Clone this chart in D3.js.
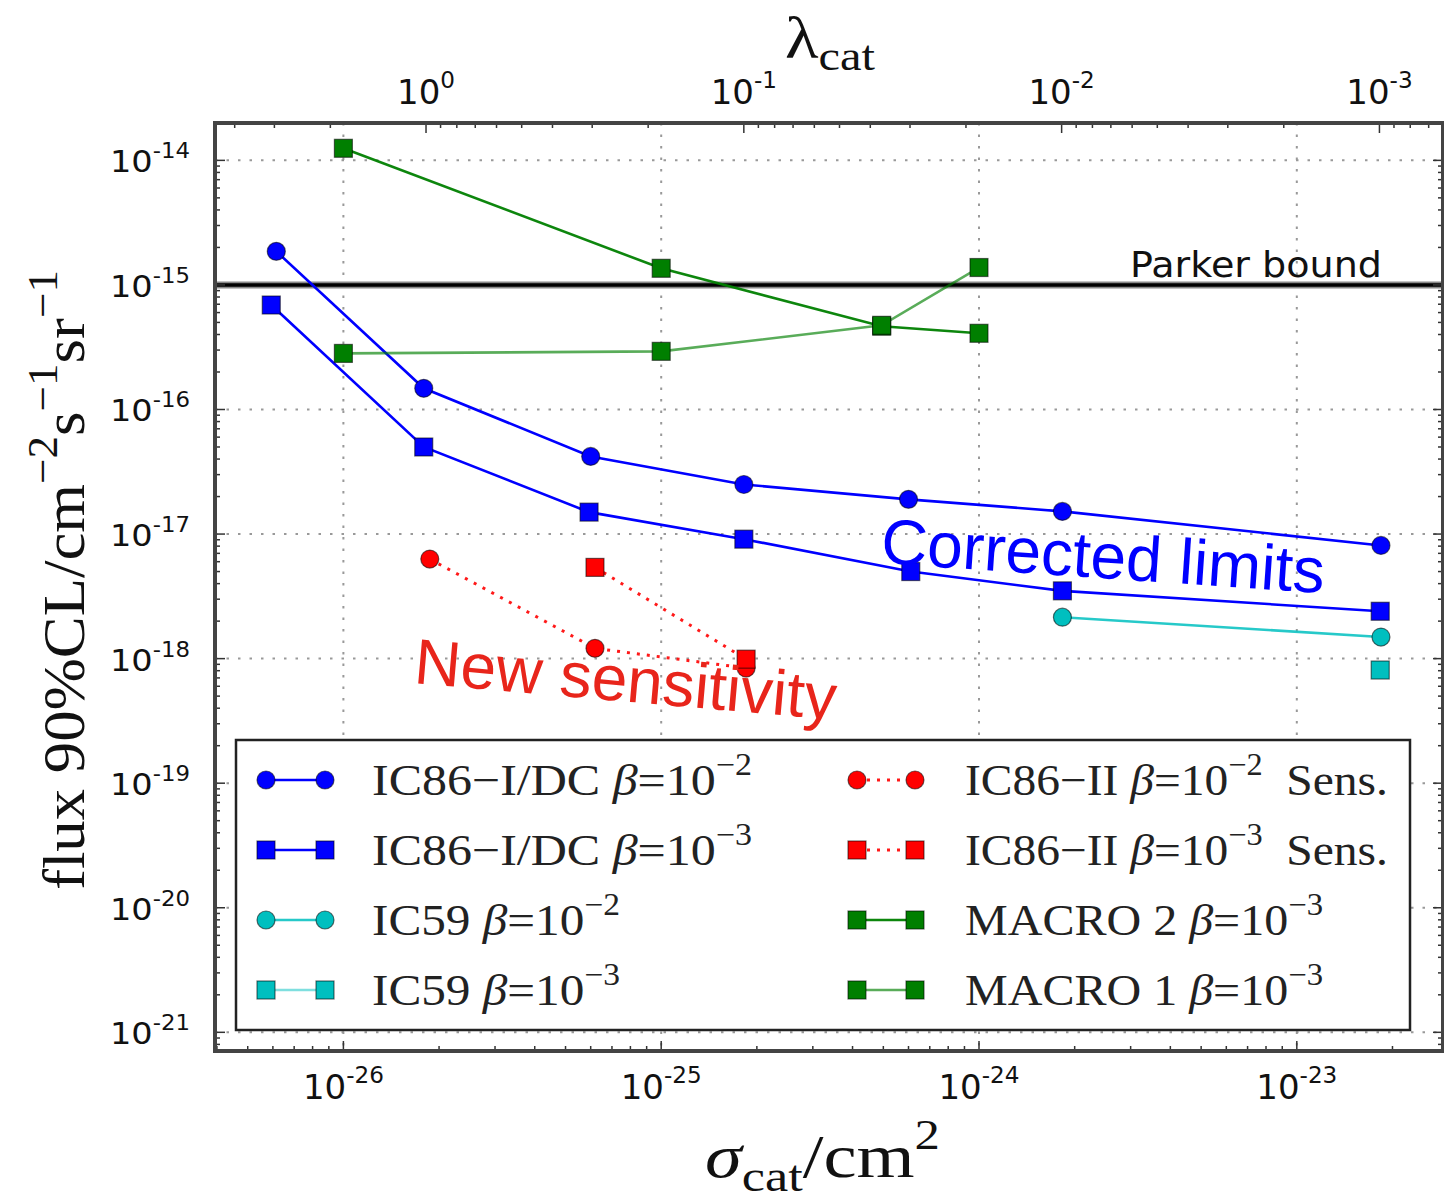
<!DOCTYPE html>
<html><head><meta charset="utf-8">
<script src="https://cdn.jsdelivr.net/npm/d3@7"></script>
<style>html,body{margin:0;padding:0;background:#fff;}svg{display:block;}</style>
</head><body>
<svg id="chart" width="1444" height="1200"></svg>
<script>
// ---------------- DATA ----------------
// sigma_cat (cm^2) and flux (cm^-2 s^-1 sr^-1)
const sigmaIC86b2 = [6.15e-27, 1.79e-26, 6.0e-26, 1.82e-25, 6.0e-25, 1.83e-24, 1.84e-23];
const fluxIC86b2  = [1.86e-15, 1.48e-16, 4.2e-17, 2.5e-17, 1.9e-17, 1.52e-17, 8.1e-18];
const sigmaIC86b3 = [5.93e-27, 1.79e-26, 5.93e-26, 1.82e-25, 6.1e-25, 1.83e-24, 1.83e-23];
const fluxIC86b3  = [6.9e-16, 5.0e-17, 1.5e-17, 9.1e-18, 5.0e-18, 3.5e-18, 2.4e-18];
const sigmaIC59b2 = [1.83e-24, 1.84e-23];
const fluxIC59b2  = [2.15e-18, 1.49e-18];
const sigmaIC59b3 = [1.83e-23];
const fluxIC59b3  = [8.1e-19];
const sigmaSensB2 = [1.87e-26, 6.19e-26, 1.85e-25];
const fluxSensB2  = [6.3e-18, 1.21e-18, 8.4e-19];
const sigmaSensB3 = [6.19e-26, 1.85e-25];
const fluxSensB3  = [5.4e-18, 9.9e-19];
const sigmaMacro2 = [1e-26, 1e-25, 4.94e-25, 1e-24];
const fluxMacro2  = [1.25e-14, 1.36e-15, 4.66e-16, 4.09e-16];
const sigmaMacro1 = [1e-26, 1e-25, 4.94e-25, 1e-24];
const fluxMacro1  = [2.82e-16, 2.93e-16, 4.74e-16, 1.38e-15];
const parkerBound = 1e-15;

const sigmaTicks = [1e-26, 1e-25, 1e-24, 1e-23];
const sigmaTickExp = ["-26", "-25", "-24", "-23"];
const fluxTicks = [1e-14, 1e-15, 1e-16, 1e-17, 1e-18, 1e-19, 1e-20, 1e-21];
const fluxTickExp = ["-14", "-15", "-16", "-17", "-18", "-19", "-20", "-21"];
const lambdaTicks = [1, 0.1, 0.01, 0.001];
const lambdaTickExp = ["0", "-1", "-2", "-3"];
const lambdaRefSigma = Math.pow(10, -25.74); // sigma where lambda_cat = 1

const seriesNames = [
  [["IC86\u2212I/DC "], ["\u03b2", "it"], ["="], ["10"], ["\u22122", "sup"]],
  [["IC86\u2212I/DC "], ["\u03b2", "it"], ["="], ["10"], ["\u22123", "sup"]],
  [["IC59 "], ["\u03b2", "it"], ["="], ["10"], ["\u22122", "sup"]],
  [["IC59 "], ["\u03b2", "it"], ["="], ["10"], ["\u22123", "sup"]],
  [["IC86\u2212II "], ["\u03b2", "it"], ["="], ["10"], ["\u22122", "sup"], ["\u2002Sens."]],
  [["IC86\u2212II "], ["\u03b2", "it"], ["="], ["10"], ["\u22123", "sup"], ["\u2002Sens."]],
  [["MACRO 2 "], ["\u03b2", "it"], ["="], ["10"], ["\u22123", "sup"]],
  [["MACRO 1 "], ["\u03b2", "it"], ["="], ["10"], ["\u22123", "sup"]]
];
const legendTextWidths = [380, 380, 248, 248, 423, 423, 358, 358];

// ---------------- SETUP ----------------
const svg = d3.select("#chart");
const X0 = 215, X1 = 1443, Y0 = 123, Y1 = 1051;
const x = d3.scaleLog().domain([Math.pow(10, -26.404), Math.pow(10, -22.54)]).range([X0, X1]);
const y = d3.scaleLog().domain([Math.pow(10, -21.15), Math.pow(10, -13.70)]).range([Y1, Y0]);
const xl = d3.scaleLog().domain([lambdaRefSigma / x.domain()[0], lambdaRefSigma / x.domain()[1]]).range([X0, X1]);

const series = [
  {s: sigmaIC86b2, f: fluxIC86b2, color: "#0000ff", line: "#0000ff", lo: 1, m: "circle", dash: null},
  {s: sigmaIC86b3, f: fluxIC86b3, color: "#0000ff", line: "#0000ff", lo: 1, m: "square", dash: null},
  {s: sigmaIC59b2, f: fluxIC59b2, color: "#00bfbf", line: "#00bfbf", lo: 0.85, m: "circle", dash: null},
  {s: sigmaIC59b3, f: fluxIC59b3, color: "#00bfbf", line: "#00bfbf", lo: 0.5, m: "square", dash: null},
  {s: sigmaSensB2, f: fluxSensB2, color: "#ff0000", line: "#ff0000", lo: 0.9, m: "circle", dash: "3,7"},
  {s: sigmaSensB3, f: fluxSensB3, color: "#ff0000", line: "#ff0000", lo: 0.9, m: "square", dash: "3,7"},
  {s: sigmaMacro2, f: fluxMacro2, color: "#007f00", line: "#008000", lo: 0.95, m: "square", dash: null},
  {s: sigmaMacro1, f: fluxMacro1, color: "#007f00", line: "#008000", lo: 0.65, m: "square", dash: null}
];

function rich(t, parts, supShift, subShift, supSize) {
  let shift = 0;
  parts.forEach(p => {
    const ts = t.append("tspan").text(p[0]);
    let target = 0;
    if (p[1] === "sup") { target = -supShift; ts.attr("font-size", supSize || "0.68em"); }
    if (p[1] === "sub") { target = subShift; ts.attr("font-size", "0.7em"); }
    if (p[1] === "it") ts.attr("font-style", "italic");
    if (target - shift !== 0) ts.attr("dy", target - shift);
    shift = target;
  });
}

// ---------------- GRID ----------------
const grid = svg.append("g").attr("stroke", "#999").attr("stroke-width", 2).attr("stroke-dasharray", "2.5,9");
grid.selectAll("line.v").data(sigmaTicks).enter().append("line")
  .attr("x1", d => x(d)).attr("x2", d => x(d)).attr("y1", Y0).attr("y2", Y1);
grid.selectAll("line.h").data(fluxTicks).enter().append("line")
  .attr("y1", d => y(d)).attr("y2", d => y(d)).attr("x1", X0).attr("x2", X1);

// ---------------- PARKER BOUND ----------------
svg.append("line").attr("x1", X0).attr("x2", X1).attr("y1", y(parkerBound)).attr("y2", y(parkerBound))
  .attr("stroke", "#888").attr("stroke-width", 7);
svg.append("line").attr("x1", X0).attr("x2", X1).attr("y1", y(parkerBound)).attr("y2", y(parkerBound))
  .attr("stroke", "#000").attr("stroke-width", 3.5);
svg.append("text").attr("x", 1130).attr("y", y(parkerBound) - 8)
  .attr("font-family", "DejaVu Sans").attr("font-size", 36).attr("fill", "#111")
  .attr("textLength", 252).attr("lengthAdjust", "spacingAndGlyphs").text("Parker bound");

// ---------------- SERIES ----------------
const lineGen = d3.line().x(d => x(d[0])).y(d => y(d[1]));
series.forEach(sr => {
  const pts = sr.s.map((v, i) => [v, sr.f[i]]);
  if (pts.length > 1) {
    svg.append("path").attr("d", lineGen(pts)).attr("fill", "none")
      .attr("stroke", sr.line).attr("stroke-opacity", sr.lo).attr("stroke-width", sr.dash ? 3 : 2.6)
      .attr("stroke-dasharray", sr.dash);
  }
});
function drawMarker(g, type, cx, cy, color, size) {
  if (type === "circle") {
    g.append("circle").attr("cx", cx).attr("cy", cy).attr("r", size / 2)
      .attr("fill", color).attr("stroke", "#000").attr("stroke-opacity", 0.55).attr("stroke-width", 1.2);
  } else {
    g.append("rect").attr("x", cx - size / 2).attr("y", cy - size / 2).attr("width", size).attr("height", size)
      .attr("fill", color).attr("stroke", "#000").attr("stroke-opacity", 0.55).attr("stroke-width", 1.2);
  }
}
const markG = svg.append("g");
series.forEach(sr => {
  sr.s.forEach((v, i) => drawMarker(markG, sr.m, x(v), y(sr.f[i]), sr.color, 18));
});

// ---------------- ANNOTATIONS ----------------
svg.append("text").attr("x", 880).attr("y", 563).attr("transform", "rotate(3.9,880,563)")
  .attr("font-family", "Liberation Sans, Arial, sans-serif").attr("font-size", 64).attr("fill", "#0000ff")
  .text("Corrected limits");
svg.append("text").attr("x", 413).attr("y", 683).attr("transform", "rotate(5,413,683)")
  .attr("font-family", "Liberation Sans, Arial, sans-serif").attr("font-size", 64).attr("fill", "#e8251b")
  .text("New sensitivity");

// ---------------- LEGEND ----------------
const leg = svg.append("g");
leg.append("rect").attr("x", 236).attr("y", 740).attr("width", 1174).attr("height", 290)
  .attr("fill", "#fff").attr("stroke", "#222").attr("stroke-width", 2.5);
series.forEach((sr, i) => {
  const col = Math.floor(i / 4), row = i % 4;
  const lx1 = col === 0 ? 266 : 857, lx2 = col === 0 ? 325 : 915, tx = col === 0 ? 372 : 965;
  const ly = 780 + row * 70;
  leg.append("line").attr("x1", lx1).attr("x2", lx2).attr("y1", ly).attr("y2", ly)
    .attr("stroke", sr.line).attr("stroke-opacity", sr.lo).attr("stroke-width", sr.dash ? 3 : 2.6)
    .attr("stroke-dasharray", sr.dash);
  drawMarker(leg, sr.m, lx1, ly, sr.color, 18);
  drawMarker(leg, sr.m, lx2, ly, sr.color, 18);
  const t = leg.append("text").attr("x", tx).attr("y", ly + 15)
    .attr("font-family", "Liberation Serif, serif").attr("font-size", 45).attr("fill", "#222")
    .attr("textLength", legendTextWidths[i]).attr("lengthAdjust", "spacingAndGlyphs");
  rich(t, seriesNames[i], 20, 0);
});

// ---------------- AXES / TICKS ----------------
const tk = svg.append("g").attr("stroke", "#333").attr("stroke-width", 1.5);
const isMajor = v => Math.abs(Math.log10(v) - Math.round(Math.log10(v))) < 1e-6;
x.ticks().forEach(v => {
  const L = isMajor(v) ? 10 : 5;
  tk.append("line").attr("x1", x(v)).attr("x2", x(v)).attr("y1", Y1).attr("y2", Y1 - L);
});
xl.ticks().forEach(v => {
  const L = isMajor(v) ? 10 : 5;
  tk.append("line").attr("x1", xl(v)).attr("x2", xl(v)).attr("y1", Y0).attr("y2", Y0 + L);
});
y.ticks().forEach(v => {
  const L = isMajor(v) ? 10 : 5;
  tk.append("line").attr("x1", X0).attr("x2", X0 + L).attr("y1", y(v)).attr("y2", y(v));
  tk.append("line").attr("x1", X1).attr("x2", X1 - L).attr("y1", y(v)).attr("y2", y(v));
});

// frame
svg.append("rect").attr("x", X0).attr("y", Y0).attr("width", X1 - X0).attr("height", Y1 - Y0)
  .attr("fill", "none").attr("stroke", "#444").attr("stroke-width", 4);

// tick labels
const tickFont = "DejaVu Sans, sans-serif";
sigmaTicks.forEach((v, i) => {
  const t = svg.append("text").attr("x", x(v)).attr("y", 1099).attr("text-anchor", "middle")
    .attr("font-family", tickFont).attr("font-size", 34).attr("fill", "#111");
  rich(t, [["10"], [sigmaTickExp[i], "sup"]], 16, 0);
});
lambdaTicks.forEach((v, i) => {
  const t = svg.append("text").attr("x", xl(v)).attr("y", 104).attr("text-anchor", "middle")
    .attr("font-family", tickFont).attr("font-size", 34).attr("fill", "#111");
  rich(t, [["10"], [lambdaTickExp[i], "sup"]], 16, 0);
});
fluxTicks.forEach((v, i) => {
  const t = svg.append("text").attr("x", 110).attr("y", y(v) + 12)
    .attr("font-family", tickFont).attr("font-size", 31).attr("fill", "#111")
    .attr("textLength", 80).attr("lengthAdjust", "spacingAndGlyphs");
  rich(t, [["10"], [fluxTickExp[i], "sup"]], 14, 0);
});

// axis titles
const yt = svg.append("text").attr("transform", "translate(84,580) rotate(-90)").attr("x", -310)
  .attr("font-family", "Liberation Serif, serif").attr("font-size", 60).attr("fill", "#111")
  .attr("textLength", 620).attr("lengthAdjust", "spacingAndGlyphs");
rich(yt, [["flux 90%CL/cm"], ["\u22122", "sup"], ["s"], ["\u22121", "sup"], ["sr"], ["\u22121", "sup"]], 27, 0, "0.72em");

const xt = svg.append("text").attr("x", 705).attr("y", 1177)
  .attr("font-family", "Liberation Serif, serif").attr("font-size", 62).attr("fill", "#111")
  .attr("textLength", 235).attr("lengthAdjust", "spacingAndGlyphs");
rich(xt, [["\u03c3", "it"], ["cat", "sub"], ["/cm"], ["2", "sup"]], 28, 14);

const lt = svg.append("text").attr("x", 785).attr("y", 58)
  .attr("font-family", "Liberation Serif, serif").attr("font-size", 60).attr("fill", "#111")
  .attr("textLength", 90).attr("lengthAdjust", "spacingAndGlyphs");
rich(lt, [["\u03bb"], ["cat", "sub"]], 0, 12);
</script>
</body></html>
